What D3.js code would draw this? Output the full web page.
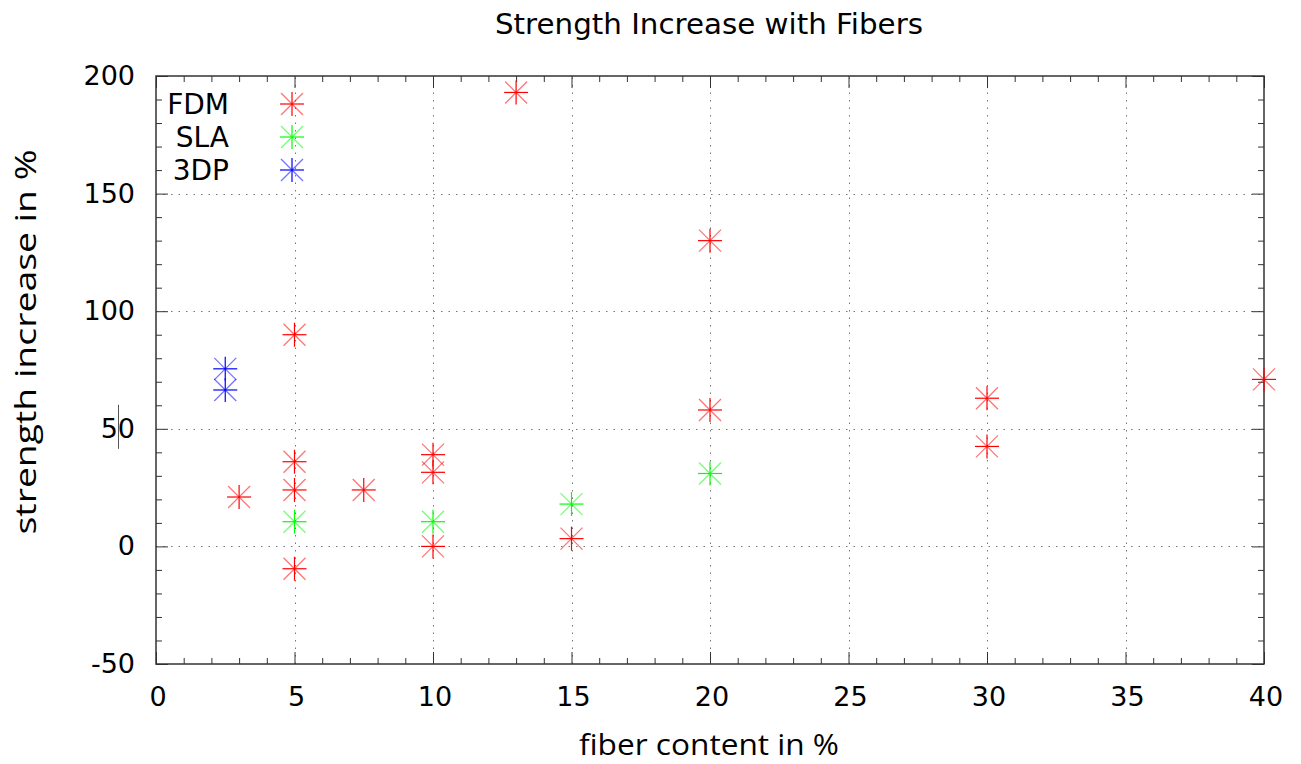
<html>
<head>
<style>
  body { margin: 0; background: #fff; }
  text { fill: #000; }
</style>
<script src="https://cdn.jsdelivr.net/npm/d3@7"></script>
</head>
<body>
<svg id="chart" width="1301" height="764"></svg>
<script>
// series
let seriesNames = ["FDM", "SLA", "3DP"]
let seriesColors = ["#ff0000", "#00ff00", "#0000ff"]

let fdmX = [3, 5, 5, 5, 5, 7.5, 10, 10, 10, 13, 15, 20, 20, 30, 30, 40]
let fdmY = [21, 36, 24, -9.5, 90, 24, 39, 31.5, 0, 193, 3.3, 130, 58, 63, 42.5, 71]

let slaX = [5, 10, 15, 20]
let slaY = [10.5, 10.5, 18, 31]

let dpX = [2.5, 2.5]
let dpY = [75.5, 66.5]

let xTicks = [0, 5, 10, 15, 20, 25, 30, 35, 40]
let yTicks = [-50, 0, 50, 100, 150, 200]

let svg = d3.select("#chart")
let pLeft = 156, pRight = 1264, pTop = 76, pBottom = 664

let x = d3.scaleLinear().domain([0, 40]).range([pLeft, pRight])
let y = d3.scaleLinear().domain([-50, 200]).range([pBottom, pTop])

// grid
let grid = svg.append("g").attr("stroke", "#777").attr("stroke-width", 1)
    .attr("stroke-dasharray", "1.5,6")
grid.selectAll(".gx").data(xTicks.slice(1, -1)).enter().append("line")
    .attr("x1", d => Math.round(x(d)) + 0.5).attr("x2", d => Math.round(x(d)) + 0.5)
    .attr("y1", pBottom).attr("y2", pTop)
grid.selectAll(".gy").data(yTicks.slice(1, -1)).enter().append("line")
    .attr("y1", d => Math.round(y(d)) + 0.5).attr("y2", d => Math.round(y(d)) + 0.5)
    .attr("x1", pLeft).attr("x2", pRight)

// axes, ticks on all sides
let font = "DejaVu Sans"
let ax = svg.append("g")
function styleAxis(g) {
    g.select(".domain").remove()
    g.selectAll("line").attr("stroke", "#333")
}
let xMinor = d3.range(0, 41, 1).filter(d => d % 5 != 0)
let yMinor = d3.range(-50, 201, 10).filter(d => d % 50 != 0)

ax.append("g").attr("transform", `translate(0,${pBottom})`)
    .call(d3.axisTop(x).tickValues(xTicks).tickSize(12).tickFormat(""))
    .call(styleAxis)
ax.append("g").attr("transform", `translate(0,${pBottom})`)
    .call(d3.axisTop(x).tickValues(xMinor).tickSize(6).tickFormat(""))
    .call(styleAxis)
ax.append("g").attr("transform", `translate(0,${pTop})`)
    .call(d3.axisBottom(x).tickValues(xTicks).tickSize(12).tickFormat(""))
    .call(styleAxis)
ax.append("g").attr("transform", `translate(0,${pTop})`)
    .call(d3.axisBottom(x).tickValues(xMinor).tickSize(6).tickFormat(""))
    .call(styleAxis)
ax.append("g").attr("transform", `translate(${pLeft},0)`)
    .call(d3.axisRight(y).tickValues(yTicks).tickSize(12).tickFormat(""))
    .call(styleAxis)
ax.append("g").attr("transform", `translate(${pLeft},0)`)
    .call(d3.axisRight(y).tickValues(yMinor).tickSize(6).tickFormat(""))
    .call(styleAxis)
ax.append("g").attr("transform", `translate(${pRight},0)`)
    .call(d3.axisLeft(y).tickValues(yTicks).tickSize(12).tickFormat(""))
    .call(styleAxis)
ax.append("g").attr("transform", `translate(${pRight},0)`)
    .call(d3.axisLeft(y).tickValues(yMinor).tickSize(6).tickFormat(""))
    .call(styleAxis)

// tick labels
svg.append("g").selectAll("text").data(xTicks).enter().append("text")
    .attr("x", d => x(d) + 2).attr("y", 706)
    .attr("text-anchor", "middle").attr("font-family", font).attr("font-size", 27)
    .text(d => d)
svg.append("g").selectAll("text").data(yTicks).enter().append("text")
    .attr("x", 135).attr("y", d => y(d) + 9)
    .attr("text-anchor", "end").attr("font-family", font).attr("font-size", 27)
    .text(d => d)

// little stray mark next to the 50 label
svg.append("line").attr("x1", 118.5).attr("x2", 118.5)
    .attr("y1", y(50) - 24).attr("y2", y(50) + 20)
    .attr("stroke", "#555").attr("stroke-width", 1)

// border
svg.append("rect").attr("x", pLeft).attr("y", pTop)
    .attr("width", pRight - pLeft).attr("height", pBottom - pTop)
    .attr("fill", "none").attr("stroke", "#333").attr("stroke-width", 1.5)

// star marker: plus + cross
function star(g, cx, cy, color) {
    let r = 12, d = 11
    g.append("line").attr("x1", cx - r).attr("x2", cx + r).attr("y1", cy).attr("y2", cy)
        .attr("stroke", color).attr("stroke-width", 1.2)
    g.append("line").attr("x1", cx).attr("x2", cx).attr("y1", cy - r).attr("y2", cy + r)
        .attr("stroke", color).attr("stroke-width", 1.2)
    g.append("line").attr("x1", cx - d).attr("x2", cx + d).attr("y1", cy - d).attr("y2", cy + d)
        .attr("stroke", color).attr("stroke-width", 1.2).attr("opacity", 0.55)
    g.append("line").attr("x1", cx - d).attr("x2", cx + d).attr("y1", cy + d).attr("y2", cy - d)
        .attr("stroke", color).attr("stroke-width", 1.2).attr("opacity", 0.55)
}

let series = [[fdmX, fdmY], [slaX, slaY], [dpX, dpY]]
let pts = svg.append("g")
series.forEach((s, i) => {
    s[0].forEach((xv, j) => star(pts, x(xv), y(s[1][j]), seriesColors[i]))
})

// legend
let lg = svg.append("g")
seriesNames.forEach((n, i) => {
    let ly = 104 + i * 33
    lg.append("text").attr("x", 229).attr("y", ly + 10)
        .attr("text-anchor", "end").attr("font-family", font).attr("font-size", 28)
        .text(n)
    star(lg, 292, ly, seriesColors[i])
})

// titles
svg.append("text").attr("x", 709).attr("y", 34).attr("text-anchor", "middle")
    .attr("font-family", font).attr("font-size", 28)
    .attr("textLength", 428).attr("lengthAdjust", "spacingAndGlyphs")
    .text("Strength Increase with Fibers")
svg.append("text").attr("x", 709).attr("y", 755).attr("text-anchor", "middle")
    .attr("font-family", "Open Sans").attr("font-size", 30)
    .attr("textLength", 260).attr("lengthAdjust", "spacingAndGlyphs")
    .text("fiber content in %")
svg.append("text").attr("transform", "translate(36,342) rotate(-90)").attr("text-anchor", "middle")
    .attr("font-family", "Open Sans").attr("font-size", 30)
    .attr("textLength", 385).attr("lengthAdjust", "spacingAndGlyphs")
    .text("strength increase in %")
</script>
</body>
</html>
